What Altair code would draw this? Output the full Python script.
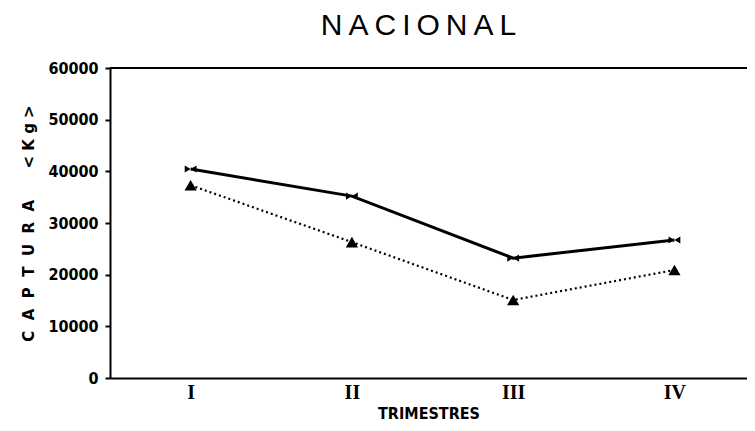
import json
import altair as alt
import pandas as pd

# ---- data ----
QUARTERS = ["I", "II", "III", "IV"]
QUARTER_POS = [1, 2, 3, 4]
SERIE_A = [40450, 35200, 23200, 26700]   # solid line, bow-tie markers
SERIE_B = [37300, 26300, 15100, 20900]   # dotted line, triangle markers
Y_TICKS = [0, 10000, 20000, 30000, 40000, 50000, 60000]

rows = []
for q, a, b in zip(QUARTER_POS, SERIE_A, SERIE_B):
    rows.append({"q": q, "v": a, "s": "A"})
    rows.append({"q": q, "v": b, "s": "B"})
df = pd.DataFrame(rows)

W, H = 637, 310
NB = "\u00a0"
THIN = "\u2009"

def spaced(word, sep):
    return sep.join(list(word))

ytitle = spaced("CAPTURA", NB * 2) + NB * 6 + spaced("<Kg>", NB)

x_scale = alt.Scale(domain=[0.5, 4.45], nice=False, zero=False)
y_scale = alt.Scale(domain=[0, 60000], nice=False)

label_expr = json.dumps(QUARTERS) + "[datum.value - 1]"

x_axis = alt.Axis(
    values=QUARTER_POS, labelExpr=label_expr, title="TRIMESTRES",
    grid=False, ticks=False, domainColor="black", domainWidth=2,
    labelFont="Liberation Serif", labelFontSize=20, labelFontWeight="bold",
    labelColor="black", labelPadding=4,
    titleFont="DejaVu Sans Condensed", titleFontSize=16, titleFontWeight="bold",
    titleColor="black", titlePadding=3,
)
y_axis = alt.Axis(
    values=Y_TICKS, format="d", title=ytitle, grid=False,
    domainColor="black", domainWidth=2, tickColor="black", tickWidth=2, tickSize=5,
    labelFont="DejaVu Sans Condensed", labelFontSize=16, labelFontWeight="bold",
    labelColor="black", labelPadding=7,
    titleFont="DejaVu Sans", titleFontSize=15, titleFontWeight="bold",
    titleColor="black", titleAngle=270, titleX=-82, titleY=H / 2,
    titleAlign="center", titleBaseline="middle",
)

base = alt.Chart(df)

x_enc = alt.X("q:Q", scale=x_scale, axis=x_axis)
y_enc = alt.Y("v:Q", scale=y_scale, axis=y_axis)

top_rule = alt.Chart(df).mark_rule(color="black", strokeWidth=2).encode(
    x=alt.value(0), x2=alt.value(W), y=alt.value(0)
)

line_a = base.transform_filter(alt.datum.s == "A").mark_line(
    color="black", strokeWidth=3
).encode(x=x_enc, y=y_enc)

pts_a = base.transform_filter(alt.datum.s == "A").mark_point(
    shape="M-1,-0.6L1,0.6L1,-0.6L-1,0.6Z", filled=True, color="black",
    size=140, opacity=1
).encode(x="q:Q", y="v:Q")

line_b = base.transform_filter(alt.datum.s == "B").mark_line(
    color="black", strokeWidth=2.2, strokeDash=[2, 3]
).encode(x="q:Q", y="v:Q")

pts_b = base.transform_filter(alt.datum.s == "B").mark_point(
    shape="triangle-up", filled=True, color="black", size=150, opacity=1
).encode(x="q:Q", y="v:Q")

chart = alt.layer(top_rule, line_a, pts_a, line_b, pts_b).properties(
    width=W, height=H,
    title=alt.TitleParams(
        text=spaced("NACIONAL", THIN), font="Liberation Sans", fontSize=30,
        fontWeight="normal", color="black", anchor="middle", offset=19, dx=-10,
    ),
    autosize=alt.AutoSizeParams(type="none"),
    padding={"left": 102, "top": 60, "right": 0, "bottom": 45},
).configure_view(stroke=None).configure(background="white")

chart.save("out.html", embed_options={"renderer": "svg", "actions": False})
